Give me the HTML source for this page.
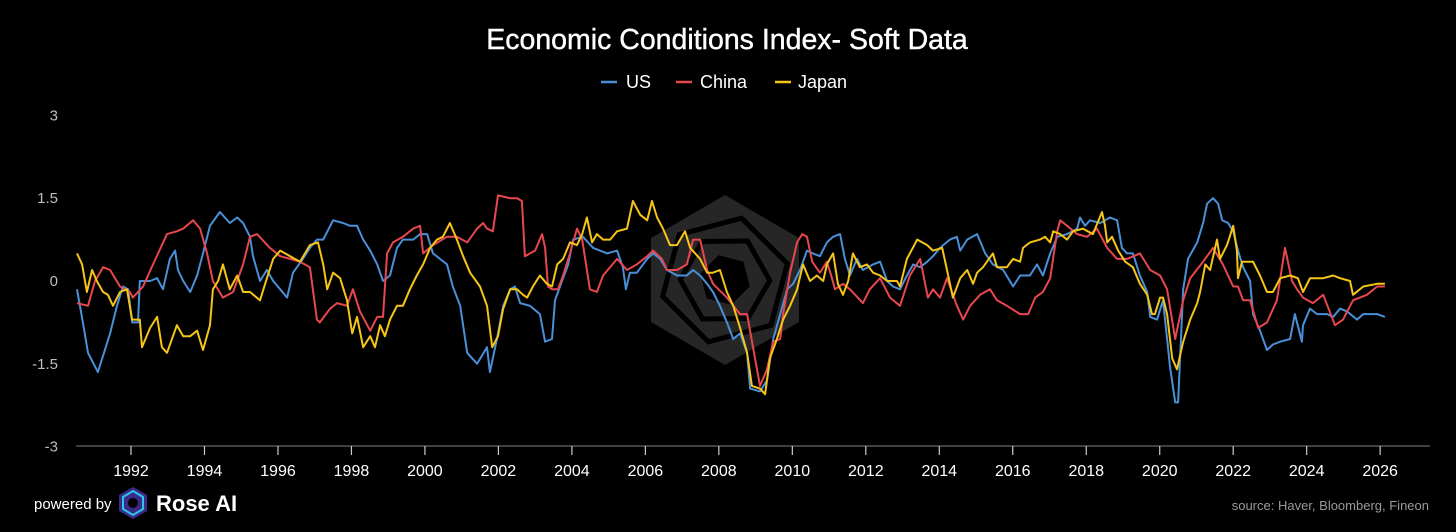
<!DOCTYPE html>
<html><head><meta charset="utf-8"><style>
html,body{margin:0;padding:0;background:#000;}
body{width:1456px;height:532px;overflow:hidden;font-family:"Liberation Sans",sans-serif;}
</style></head><body>
<svg id="chart" width="1456" height="532" xmlns="http://www.w3.org/2000/svg" style="display:block">
<rect width="1456" height="532" fill="#000"/>
<text x="727" y="49" text-anchor="middle" fill="#fff" font-size="28.5" font-family="Liberation Sans, sans-serif" stroke="#fff" stroke-width="0.4">Economic Conditions Index- Soft Data</text>
<g>
  <g><line x1="601" y1="82" x2="617" y2="82" stroke="#4a90d9" stroke-width="2.5"/><text x="626" y="88" fill="#fff" font-size="18">US</text></g>
  <g><line x1="676" y1="82" x2="692" y2="82" stroke="#e8474f" stroke-width="2.5"/><text x="700" y="88" fill="#fff" font-size="18">China</text></g>
  <g><line x1="775" y1="82" x2="791" y2="82" stroke="#f5c518" stroke-width="2.5"/><text x="798" y="88" fill="#fff" font-size="18">Japan</text></g>
</g>
<g transform="translate(725,280)">
  <polygon points="0,-85 74,-42 74,42 0,85 -74,42 -74,-42" fill="#262626"/>
  <polygon points="0,-64 56,-32 56,32 0,64 -56,32 -56,-32" fill="none" stroke="#000" stroke-width="5" transform="rotate(15)"/>
  <polygon points="0,-45 39,-22 39,22 0,45 -39,22 -39,-22" fill="none" stroke="#000" stroke-width="5" transform="rotate(30)"/>
  <polygon points="0,-26 22,-13 22,13 0,26 -22,13 -22,-13" fill="#000" transform="rotate(45)"/>
</g>
<g id="yaxis"></g>
<g id="xaxis"></g>
<g id="series"></g>
<g>
  <text x="34" y="509" fill="#fff" font-size="15">powered by</text>
  <g transform="translate(133,503)">
    <polygon points="0,-16 14,-8 14,8 0,16 -14,8 -14,-8" fill="#3a2a8a"/>
    <polygon points="0,-12 10,-6 10,6 0,12 -10,6 -10,-6" fill="none" stroke="#2ec4e6" stroke-width="2"/>
    <circle r="5" fill="#000"/>
  </g>
  <text x="156" y="511" fill="#fff" font-size="22" font-weight="bold">Rose AI</text>
</g>
<text x="1429" y="510" text-anchor="end" fill="#9a9a9a" font-size="13">source: Haver, Bloomberg, Fineon</text>
</svg>
<script>
const yTicks=[3,1.5,0,-1.5,-3];
const yTickLabels=["3","1.5","0","-1.5","-3"];
const xTicks=[1992,1994,1996,1998,2000,2002,2004,2006,2008,2010,2012,2014,2016,2018,2020,2022,2024,2026];
const usData=[[1990.53,-0.15],[1990.69,-0.75],[1990.83,-1.3],[1991.10,-1.65],[1991.43,-0.95],[1991.62,-0.45],[1991.78,-0.1],[1991.92,-0.15],[1992.03,-0.75],[1992.19,-0.75],[1992.24,0],[1992.52,0],[1992.71,0.05],[1992.87,-0.15],[1993.06,0.4],[1993.20,0.55],[1993.28,0.2],[1993.42,0],[1993.61,-0.2],[1993.80,0.1],[1993.96,0.5],[1994.15,1.0],[1994.42,1.25],[1994.69,1.05],[1994.89,1.15],[1995.05,1.05],[1995.24,0.8],[1995.32,0.45],[1995.51,0],[1995.70,0.2],[1995.87,0],[1996.06,-0.15],[1996.25,-0.3],[1996.41,0.15],[1996.68,0.4],[1996.87,0.6],[1997.06,0.75],[1997.23,0.75],[1997.50,1.1],[1997.77,1.05],[1997.96,1.0],[1998.15,1.0],[1998.32,0.75],[1998.51,0.55],[1998.70,0.3],[1998.86,0],[1999.05,0.1],[1999.24,0.6],[1999.40,0.75],[1999.68,0.75],[1999.87,0.85],[2000.06,0.85],[2000.22,0.5],[2000.41,0.4],[2000.60,0.3],[2000.76,-0.1],[2000.96,-0.45],[2001.15,-1.3],[2001.42,-1.5],[2001.69,-1.2],[2001.77,-1.65],[2001.96,-1.05],[2002.13,-0.45],[2002.32,-0.15],[2002.45,-0.1],[2002.59,-0.4],[2002.86,-0.45],[2003.13,-0.6],[2003.27,-1.1],[2003.46,-1.05],[2003.54,-0.35],[2003.73,0],[2003.90,0.3],[2004.03,0.75],[2004.30,0.8],[2004.58,0.6],[2004.96,0.5],[2005.23,0.55],[2005.39,0.25],[2005.47,-0.15],[2005.58,0.15],[2005.77,0.15],[2006.05,0.4],[2006.21,0.5],[2006.40,0.4],[2006.59,0.2],[2006.86,0.1],[2007.13,0.1],[2007.30,0.2],[2007.49,0.1],[2007.68,-0.05],[2007.84,-0.2],[2008.03,-0.45],[2008.22,-0.75],[2008.39,-1.05],[2008.58,-0.95],[2008.77,-1.3],[2008.85,-1.95],[2009.12,-2.0],[2009.31,-1.8],[2009.48,-1.05],[2009.67,-0.6],[2009.86,-0.15],[2010.02,-0.05],[2010.21,0.2],[2010.40,0.55],[2010.56,0.5],[2010.75,0.45],[2010.94,0.7],[2011.11,0.8],[2011.30,0.85],[2011.43,0.4],[2011.57,0.1],[2011.76,0.4],[2011.92,0.2],[2012.20,0.3],[2012.39,0.35],[2012.58,0],[2012.74,-0.1],[2012.93,-0.15],[2013.12,0.1],[2013.29,0.3],[2013.48,0.25],[2013.67,0.35],[2013.83,0.45],[2014.02,0.6],[2014.29,0.75],[2014.48,0.8],[2014.57,0.55],[2014.76,0.75],[2015.03,0.85],[2015.25,0.5],[2015.46,0.3],[2015.74,0.2],[2016.01,-0.1],[2016.20,0.1],[2016.47,0.1],[2016.66,0.3],[2016.82,0.1],[2017.02,0.5],[2017.21,0.8],[2017.48,0.85],[2017.75,0.95],[2017.83,1.15],[2017.97,1.0],[2018.10,1.1],[2018.38,1.05],[2018.65,1.15],[2018.84,1.1],[2018.97,0.6],[2019.11,0.5],[2019.27,0.5],[2019.46,0.1],[2019.66,-0.2],[2019.74,-0.65],[2019.93,-0.7],[2020.09,-0.35],[2020.28,-1.55],[2020.42,-2.2],[2020.50,-2.2],[2020.64,-0.15],[2020.77,0.4],[2021.02,0.7],[2021.18,1.05],[2021.29,1.4],[2021.45,1.5],[2021.59,1.4],[2021.70,1.1],[2021.86,1.05],[2022.00,0.9],[2022.13,0.55],[2022.27,0.25],[2022.46,0],[2022.54,-0.6],[2022.73,-0.9],[2022.92,-1.25],[2023.08,-1.15],[2023.28,-1.1],[2023.55,-1.05],[2023.68,-0.6],[2023.87,-1.1],[2023.90,-0.8],[2024.09,-0.5],[2024.28,-0.6],[2024.56,-0.6],[2024.72,-0.65],[2024.91,-0.5],[2025.10,-0.55],[2025.37,-0.7],[2025.54,-0.6],[2025.92,-0.6],[2026.13,-0.65]];
const chinaData=[[1990.53,-0.4],[1990.83,-0.45],[1991.02,0],[1991.24,0.25],[1991.43,0.2],[1991.70,-0.1],[1991.97,-0.2],[1992.05,-0.3],[1992.33,-0.1],[1992.60,0.3],[1992.98,0.85],[1993.25,0.9],[1993.42,0.95],[1993.69,1.1],[1993.88,0.95],[1994.07,0.5],[1994.23,0],[1994.50,-0.3],[1994.78,-0.2],[1995.05,0.3],[1995.24,0.8],[1995.43,0.85],[1995.78,0.6],[1996.06,0.45],[1996.33,0.4],[1996.60,0.35],[1996.87,0.25],[1997.06,-0.7],[1997.14,-0.75],[1997.42,-0.5],[1997.61,-0.4],[1997.88,-0.45],[1998.04,-0.15],[1998.23,-0.55],[1998.51,-0.9],[1998.70,-0.65],[1998.86,-0.65],[1998.97,0.5],[1999.13,0.7],[1999.40,0.8],[1999.68,0.95],[1999.87,1.0],[1999.95,0.5],[2000.22,0.65],[2000.60,0.8],[2000.87,0.8],[2001.15,0.7],[2001.42,0.95],[2001.58,1.05],[2001.69,0.95],[2001.85,0.9],[2001.99,1.55],[2002.32,1.5],[2002.51,1.5],[2002.64,1.45],[2002.72,0.45],[2003.00,0.55],[2003.19,0.85],[2003.27,0.6],[2003.35,-0.1],[2003.46,-0.15],[2003.62,-0.15],[2003.76,0.1],[2003.95,0.5],[2004.14,0.95],[2004.28,0.75],[2004.41,0.2],[2004.49,-0.15],[2004.68,-0.2],[2004.85,0.1],[2005.23,0.4],[2005.50,0.2],[2005.77,0.3],[2006.05,0.45],[2006.21,0.55],[2006.45,0.4],[2006.59,0.2],[2006.86,0.2],[2007.13,0.3],[2007.30,0.75],[2007.49,0.75],[2007.68,0.2],[2007.84,-0.05],[2008.22,-0.3],[2008.58,-0.6],[2008.77,-0.6],[2008.93,-1.2],[2009.12,-1.9],[2009.31,-1.6],[2009.48,-1.1],[2009.67,-1.05],[2009.75,-0.6],[2009.94,0.15],[2010.13,0.7],[2010.27,0.85],[2010.40,0.8],[2010.54,0.35],[2010.75,0.15],[2010.94,0.35],[2011.08,0.05],[2011.16,-0.15],[2011.38,-0.05],[2011.57,-0.15],[2011.92,-0.4],[2012.11,-0.15],[2012.39,0.05],[2012.66,-0.3],[2012.93,-0.45],[2013.20,0.1],[2013.48,0.4],[2013.69,-0.3],[2013.83,-0.15],[2014.02,-0.3],[2014.21,0.05],[2014.48,-0.45],[2014.65,-0.7],[2014.84,-0.45],[2015.11,-0.25],[2015.38,-0.15],[2015.57,-0.35],[2015.84,-0.45],[2016.20,-0.6],[2016.42,-0.6],[2016.61,-0.3],[2016.82,-0.2],[2017.02,0.05],[2017.21,0.9],[2017.29,1.1],[2017.48,1.0],[2017.75,0.85],[2018.02,0.8],[2018.29,0.95],[2018.57,0.6],[2018.84,0.4],[2019.11,0.4],[2019.46,0.5],[2019.74,0.2],[2020.01,0.1],[2020.20,-0.15],[2020.42,-1.05],[2020.64,-0.35],[2020.83,0.05],[2021.18,0.35],[2021.45,0.6],[2021.72,0.3],[2022.00,-0.1],[2022.13,-0.1],[2022.27,-0.35],[2022.46,-0.35],[2022.68,-0.85],[2022.92,-0.75],[2023.19,-0.35],[2023.41,0.6],[2023.60,0.0],[2023.74,-0.15],[2023.90,-0.3],[2024.17,-0.4],[2024.45,-0.25],[2024.77,-0.8],[2024.99,-0.7],[2025.26,-0.35],[2025.64,-0.25],[2025.92,-0.1],[2026.13,-0.1]];
const japanData=[[1990.53,0.5],[1990.67,0.3],[1990.80,-0.2],[1990.94,0.2],[1991.07,0.0],[1991.24,-0.2],[1991.37,-0.25],[1991.51,-0.45],[1991.70,-0.2],[1991.89,-0.15],[1992.03,-0.7],[1992.24,-0.7],[1992.30,-1.2],[1992.52,-0.85],[1992.71,-0.65],[1992.84,-1.2],[1992.98,-1.3],[1993.25,-0.8],[1993.42,-1.0],[1993.61,-1.0],[1993.80,-0.9],[1993.96,-1.25],[1994.15,-0.8],[1994.23,-0.15],[1994.37,0.0],[1994.50,0.3],[1994.69,-0.15],[1994.89,0.1],[1995.05,-0.2],[1995.24,-0.2],[1995.51,-0.35],[1995.70,0.05],[1995.87,0.4],[1996.06,0.55],[1996.33,0.45],[1996.60,0.35],[1996.87,0.65],[1997.09,0.7],[1997.23,0.3],[1997.34,-0.15],[1997.50,0.15],[1997.69,0.05],[1997.88,-0.35],[1998.02,-0.95],[1998.15,-0.65],[1998.32,-1.2],[1998.51,-1.0],[1998.64,-1.2],[1998.78,-0.8],[1998.91,-1.0],[1999.05,-0.7],[1999.24,-0.45],[1999.40,-0.45],[1999.59,-0.15],[1999.78,0.1],[1999.95,0.3],[2000.14,0.6],[2000.33,0.75],[2000.49,0.8],[2000.68,1.05],[2000.87,0.75],[2001.04,0.45],[2001.23,0.15],[2001.50,-0.1],[2001.69,-0.45],[2001.83,-1.2],[2001.99,-1.0],[2002.13,-0.5],[2002.32,-0.15],[2002.51,-0.15],[2002.67,-0.25],[2002.78,-0.3],[2002.94,-0.1],[2003.13,0.1],[2003.32,-0.05],[2003.46,-0.1],[2003.60,0.3],[2003.76,0.4],[2003.95,0.7],[2004.14,0.65],[2004.28,0.85],[2004.41,1.15],[2004.55,0.7],[2004.68,0.85],[2004.85,0.75],[2005.04,0.75],[2005.23,0.9],[2005.50,0.95],[2005.66,1.45],[2005.86,1.2],[2006.05,1.1],[2006.18,1.45],[2006.32,1.15],[2006.48,0.95],[2006.67,0.65],[2006.86,0.65],[2007.08,0.9],[2007.22,0.6],[2007.49,0.4],[2007.68,0.15],[2007.84,0.15],[2008.03,0.2],[2008.22,-0.2],[2008.39,-0.45],[2008.58,-0.85],[2008.77,-1.3],[2008.90,-1.9],[2009.12,-1.95],[2009.26,-2.05],[2009.39,-1.4],[2009.58,-1.05],[2009.75,-0.7],[2009.94,-0.45],[2010.13,-0.15],[2010.29,0.3],[2010.48,0.0],[2010.67,0.1],[2010.84,0.0],[2010.94,0.3],[2011.11,0.5],[2011.24,-0.05],[2011.38,-0.25],[2011.52,0.0],[2011.65,0.5],[2011.84,0.25],[2012.03,0.3],[2012.20,0.15],[2012.39,0.1],[2012.58,0.0],[2012.85,0.0],[2012.93,-0.1],[2013.12,0.4],[2013.40,0.75],[2013.67,0.65],[2013.83,0.55],[2014.08,0.6],[2014.21,0.2],[2014.37,-0.3],[2014.57,0.05],[2014.76,0.2],[2014.92,-0.05],[2015.03,0.15],[2015.19,0.25],[2015.46,0.5],[2015.57,0.25],[2015.84,0.25],[2016.01,0.4],[2016.20,0.35],[2016.28,0.6],[2016.47,0.7],[2016.74,0.75],[2016.88,0.8],[2017.02,0.7],[2017.10,0.9],[2017.29,0.85],[2017.48,0.75],[2017.64,0.9],[2017.91,0.95],[2018.18,0.85],[2018.43,1.25],[2018.51,1.0],[2018.57,0.7],[2018.70,0.8],[2018.87,0.55],[2019.06,0.35],[2019.27,0.25],[2019.46,-0.05],[2019.66,-0.25],[2019.79,-0.6],[2019.87,-0.6],[2020.01,-0.3],[2020.09,-0.3],[2020.20,-0.6],[2020.34,-1.4],[2020.47,-1.6],[2020.64,-1.1],[2020.83,-0.7],[2021.02,-0.4],[2021.10,-0.2],[2021.24,0.3],[2021.37,0.2],[2021.56,0.75],[2021.64,0.4],[2021.83,0.65],[2022.00,1.0],[2022.10,0.55],[2022.13,0.05],[2022.24,0.35],[2022.54,0.35],[2022.73,0.1],[2022.92,-0.2],[2023.08,-0.2],[2023.28,0.05],[2023.55,0.1],[2023.76,0.05],[2023.90,-0.2],[2024.09,0.05],[2024.45,0.05],[2024.72,0.1],[2024.91,0.05],[2025.18,0.0],[2025.26,-0.25],[2025.54,-0.1],[2025.92,-0.05],[2026.13,-0.05]];

const NS="http://www.w3.org/2000/svg";
const X0=131, PXY=36.74, Y0=281, PXV=55.2;
function xs(yr){return X0+(yr-1992)*PXY;}
function ys(v){return Y0-v*PXV;}
function mk(tag,attrs,parent){const e=document.createElementNS(NS,tag);for(const k in attrs)e.setAttribute(k,attrs[k]);parent.appendChild(e);return e;}

const yg=document.getElementById('yaxis');
yTicks.forEach((t,i)=>{
  const el=mk('text',{x:58,y:ys(t)+5,'text-anchor':'end',fill:'#bdbdbd','font-size':15},yg);
  
  
  el.textContent=yTickLabels[i];
});
const xg=document.getElementById('xaxis');
const axisLine=mk('line',{x1:76,x2:1430,y1:446,y2:446,stroke:'#555','stroke-width':1.5},xg);


xTicks.forEach(t=>{
  const tk=mk('line',{x1:xs(t),x2:xs(t),y1:446,y2:455,stroke:'#ccc','stroke-width':1.2},xg);
  
  
  const lb=mk('text',{x:xs(t),y:476,'text-anchor':'middle',fill:'#fff','font-size':16},xg);
  
  
  lb.textContent=String(t);
});
const sg=document.getElementById('series');
function drawLine(data,color,name){
  const d=data.map((p,i)=>(i?'L':'M')+xs(p[0]).toFixed(1)+','+ys(p[1]).toFixed(1)).join(' ');
  const path=mk('path',{d:d,fill:'none',stroke:color,'stroke-width':2,'stroke-linejoin':'round'},sg);
  
  
}
drawLine(usData,'#4a90d9','us-line');
drawLine(chinaData,'#e8474f','china-line');
drawLine(japanData,'#f5c518','japan-line');
</script>
</body></html>
